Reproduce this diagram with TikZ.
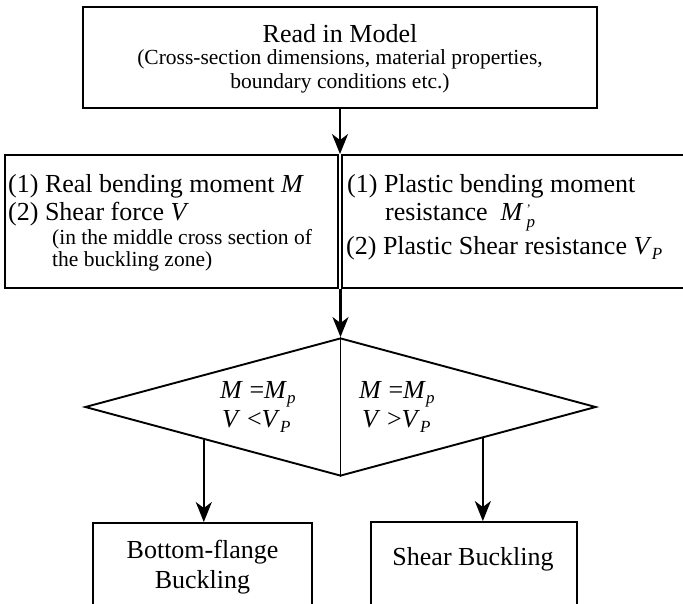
\documentclass[tikz,border=0pt]{standalone}
\usepackage{fontspec}
\setmainfont{Liberation Serif}
\usetikzlibrary{arrows.meta,shapes.geometric,calc}
\newcommand{\sbs}[1]{\raisebox{-5pt}{\fontsize{17}{17}\selectfont\itshape #1}}
\newcommand{\Mpp}{\textit{M}\rlap{\smash{\raisebox{7pt}{\fontsize{13}{13}\selectfont\hspace{3pt}'}}}\raisebox{-7pt}{\fontsize{17}{17}\selectfont\itshape\hspace{3pt}p}}
\begin{document}
\begin{tikzpicture}[x=1pt,y=-1pt,
  box/.style={draw, line width=1.9pt, inner sep=0pt},
  ln/.style={line width=1.9pt},
  arr/.style={line width=2.2pt, -{Stealth[length=20pt,width=16pt,inset=6pt]}},
  big/.style={font=\fontsize{26}{30}\selectfont, inner sep=0pt},
  small/.style={font=\fontsize{21.5}{25}\selectfont, inner sep=0pt}]
\useasboundingbox (0,0) rectangle (683,603);

% boxes
\node[box, minimum width=514pt, minimum height=101pt] (top) at (340,57.5) {};
\node[box, minimum width=333pt, minimum height=133pt] (lbox) at (171.5,221.5) {};
\node[box, minimum width=350pt, minimum height=133pt] (rbox) at (517,221.5) {};
\node[box, diamond, minimum width=511pt, minimum height=138pt] (dia) at (340.5,407) {};
\node[box, minimum width=219pt, minimum height=117pt] (bl) at (202.5,581.5) {};
\node[box, minimum width=206pt, minimum height=118pt] (br) at (474,581) {};

% top box text
\node[big, anchor=base] (t1) at (340,42) {Read in Model};
\node[small, anchor=base] (t2) at (340,64) {(Cross-section dimensions, material properties,};
\node[small, anchor=base] (t3) at (340,88) {boundary conditions etc.)};

% left box text
\node[big, anchor=base west] (l1) at (8,192) {(1) Real bending moment \textit{M}};
\node[big, anchor=base west] (l2) at (8,220) {(2) Shear force \textit{V}};
\node[small, anchor=base west] (l3) at (52,244) {(in the middle cross section of};
\node[small, anchor=base west] (l4) at (52,266) {the buckling zone)};

% right box text
\node[big, anchor=base west] (r1) at (347,192) {(1) Plastic bending moment};
\node[big, anchor=base west] (r2) at (385,220) {resistance \ \Mpp};
\node[big, anchor=base west] (r3) at (346,254) {(2) Plastic Shear resistance \textit{V}\sbs{P}};

% diamond text
\node[big, anchor=base west] (d1) at (220,398) {\textit{M} =\textit{M}\sbs{p}};
\node[big, anchor=base west] (d2) at (222,427) {\textit{V} <\textit{V}\sbs{P}};
\node[big, anchor=base west] (d3) at (359,398) {\textit{M} =\textit{M}\sbs{p}};
\node[big, anchor=base west] (d4) at (362,427) {\textit{V} >\textit{V}\sbs{P}};

% bottom texts
\node[big, anchor=base] (b1) at (202.5,558) {Bottom-flange};
\node[big, anchor=base] (b2) at (202.5,588) {Buckling};
\node[big, anchor=base] (b3) at (473,565) {Shear Buckling};

% connectors
\draw[arr] (top.south) -- (top.south |- lbox.north);
\draw[arr] (dia.north |- lbox.south) -- (dia.north);
\draw[ln] (dia.north) -- (dia.south);
\coordinate (la) at ($(dia.west)!0.467!(dia.south)$);
\coordinate (ra) at ($(dia.east)!0.445!(dia.south)$);
\draw[arr] (la) -- (la |- bl.north);
\draw[arr] (ra) -- (ra |- br.north);
\end{tikzpicture}
\end{document}
